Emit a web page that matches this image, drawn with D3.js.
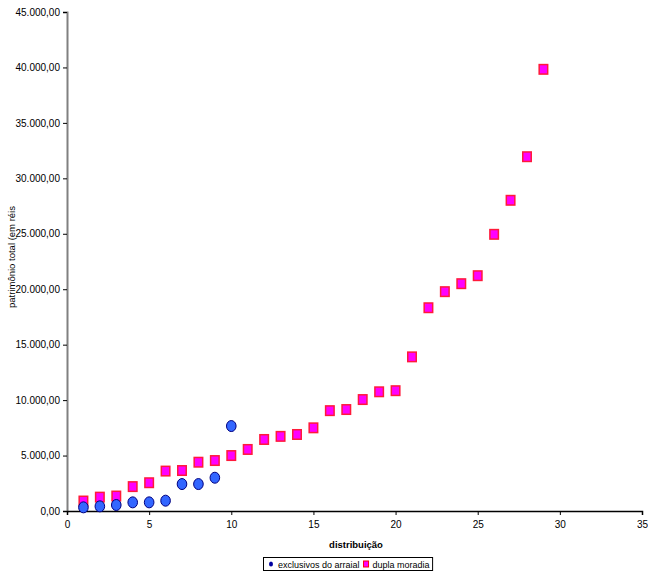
<!DOCTYPE html>
<html><head><meta charset="utf-8">
<script src="https://cdn.jsdelivr.net/npm/d3@7"></script>
<style>body{margin:0;background:#fff}svg{display:block;font-family:"Liberation Sans",Arial,sans-serif}</style>
</head><body>
<svg id="c" width="648" height="573"></svg>
<script>
const exclusivosX = [1,2,3,4,5,6,7,8,9,10];
const exclusivosY = [330,420,540,780,780,930,2430,2430,3000,7660];
const duplaX = [1,2,3,4,5,6,7,8,9,10,11,12,13,14,15,16,17,18,19,20,21,22,23,24,25,26,27,28,29];
const duplaY = [900,1250,1350,2200,2550,3600,3650,4400,4550,5000,5550,6450,6730,6900,7500,9050,9150,10050,10750,10850,13900,18330,19780,20500,21220,24950,28020,31950,39830];
const xTicks = [0,5,10,15,20,25,30,35];
const yTicks = [0,5000,10000,15000,20000,25000,30000,35000,40000,45000];
const seriesNames = ["exclusivos do arraial","dupla moradia"];

const svg = d3.select("#c");
const x = d3.scaleLinear().domain([0,35]).range([67,642]);
const y = d3.scaleLinear().domain([0,45000]).range([511,12]);
const fmt = v => { const s = d3.format(",.2f")(v); return s.replace(/,/g,"#").replace(/\./g,",").replace(/#/g,"."); };

// y axis
const ya = svg.append("g").attr("transform","translate(67,0)")
  .call(d3.axisLeft(y).tickValues(yTicks).tickFormat(fmt).tickSizeOuter(0).tickSize(4).tickPadding(3));
ya.select(".domain").attr("stroke","#808080").attr("stroke-width",2);
ya.selectAll(".tick line").attr("stroke","#000");
ya.selectAll("text").attr("font-size","10px").attr("fill","#000").attr("font-family","Liberation Sans, Arial, sans-serif");

// x axis
const xa = svg.append("g").attr("transform","translate(0,511)")
  .call(d3.axisBottom(x).tickValues(xTicks).tickSizeOuter(0).tickSize(4).tickPadding(6));
xa.select(".domain").attr("stroke","#000").attr("stroke-width",1.5);
xa.selectAll(".tick line").attr("stroke","#000");
xa.selectAll("text").attr("font-size","10px").attr("fill","#000").attr("font-family","Liberation Sans, Arial, sans-serif");

// titles
svg.append("text").attr("x",356).attr("y",548).attr("text-anchor","middle")
  .attr("font-size","9.5px").attr("font-weight","bold").text("distribuição");
svg.append("text").attr("transform","translate(15,257) rotate(-90)").attr("text-anchor","middle")
  .attr("font-size","9.5px").text("patrimônio total (em réis");

// dupla moradia squares
const sq = 8.5;
svg.append("g").selectAll("rect").data(duplaX.map((d,i)=>[d,duplaY[i]])).join("rect")
  .attr("x",d=>x(d[0])-sq/2).attr("y",d=>y(d[1])-4.75).attr("width",sq).attr("height",9.5)
  .attr("fill","#ff00ff").attr("stroke","#ff1a3a").attr("stroke-width",1.5);

// exclusivos circles
svg.append("g").selectAll("ellipse").data(exclusivosX.map((d,i)=>[d,exclusivosY[i]])).join("ellipse")
  .attr("cx",d=>x(d[0])).attr("cy",d=>y(d[1])).attr("rx",4.8).attr("ry",5.5)
  .attr("fill","#3366ff").attr("stroke","#000080").attr("stroke-width",1);

// legend
const lg = svg.append("g");
const box = lg.append("rect").attr("x",263.5).attr("y",557.5).attr("height",13)
  .attr("fill","#fff").attr("stroke","#000").attr("stroke-width",1);
lg.append("ellipse").attr("cx",271).attr("cy",564).attr("rx",2).attr("ry",2.6).attr("fill","#0000a0");
const t1 = lg.append("text").attr("x",278).attr("y",567.5).attr("font-size","9px").text(seriesNames[0]);
const e1 = 278 + t1.node().getComputedTextLength();
lg.append("rect").attr("x",e1+4).attr("y",561).attr("width",5).attr("height",6).attr("fill","#ff00ff").attr("stroke","#ff0000").attr("stroke-width",1);
const t2 = lg.append("text").attr("x",e1+13).attr("y",567.5).attr("font-size","9px").text(seriesNames[1]);
const e2 = e1 + 13 + t2.node().getComputedTextLength();
box.attr("width", Math.max(167, e2 + 3 - 263.5));
</script>
</body></html>
